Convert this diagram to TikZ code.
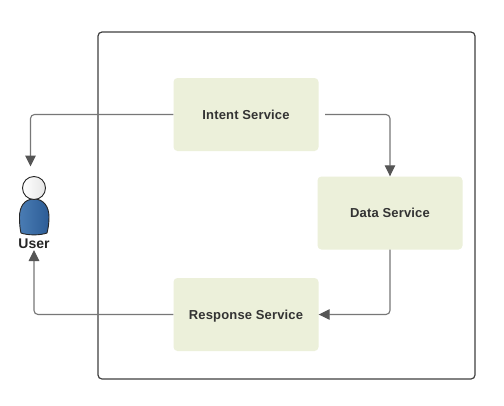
\documentclass[tikz,border=0pt]{standalone}
\usepackage{fontspec}
\setmainfont{Liberation Sans}
\usetikzlibrary{arrows.meta}
\definecolor{boxfill}{HTML}{ECF0DA}
\definecolor{linegray}{HTML}{777777}
\definecolor{tipgray}{HTML}{555555}
\definecolor{labelcol}{HTML}{333333}
\tikzset{
  service/.style={rectangle,rounded corners=4pt,fill=boxfill,draw=none,minimum width=145pt,minimum height=73pt,inner sep=0pt,text=labelcol,text height=11pt,text depth=2pt,font=\fontsize{13}{15}\selectfont\bfseries\addfontfeature{LetterSpace=1.2}},
  conn/.style={draw=linegray,line width=1.1pt,rounded corners=4pt,-{Triangle[length=11pt,width=10.5pt,fill=tipgray,color=tipgray]}},
  frame/.style={draw=black!75,line width=1.2pt,rounded corners=4pt,fill=white},
  userlabel/.style={inner sep=0pt,text=black!85,font=\fontsize{14}{16}\selectfont\bfseries}
}
\begin{document}
\begin{tikzpicture}[x=1pt,y=-1pt]
\useasboundingbox (0,0) rectangle (504,405);
\fill[white] (0,0) rectangle (504,405);
\node[frame,minimum width=377pt,minimum height=347pt,inner sep=0pt] (frame) at (286.5,205.5) {};
\node[service] (intent) at (246,114.5) {Intent Service};
\node[service] (data) at (390,213) {Data Service};
\node[service] (response) at (246,314.5) {Response Service};
% user figure
\path[draw=black!85,line width=0.9pt,left color={rgb,255:red,74;green,124;blue,180},right color={rgb,255:red,44;green,92;blue,150}]
  (34,199) .. controls (24,199) and (19.5,207) .. (19.5,217)
  .. controls (19.5,224) and (20,229) .. (21,233)
  .. controls (28,235.5) and (40,235.5) .. (47,233)
  .. controls (48,229) and (49,224) .. (49,217)
  .. controls (49,207) and (44,199) .. (34,199) -- cycle;
\node[circle,draw=black!85,line width=0.9pt,left color=white,right color=black!10,minimum size=23pt,inner sep=0pt] (head) at (34,188) {};
\node[userlabel] (user) at (34,243.5) {User};
\coordinate (userin) at (30.5,166.5);
\coordinate (userback) at (34,250);
\coordinate (intentout) at (325,114.5);
\draw[conn] (intent.west) -| (userin);
\draw[conn] (response.west) -| (userback);
\draw[conn] (intentout) -| (data.north);
\draw[conn] (data.south) |- (response.east);
\end{tikzpicture}
\end{document}
